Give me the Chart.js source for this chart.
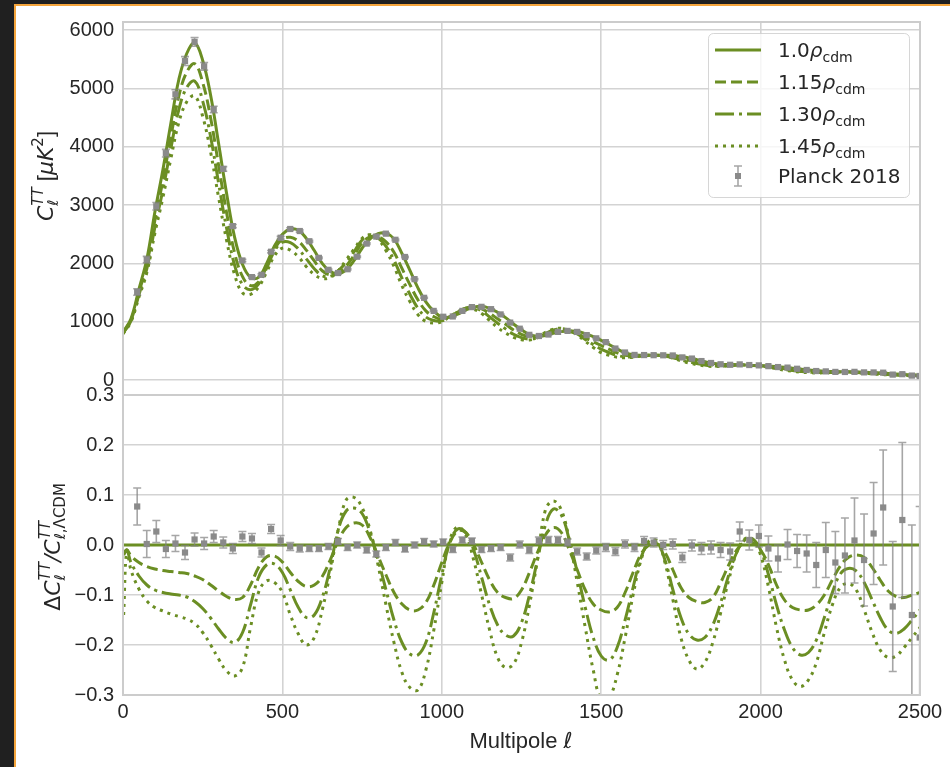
<!DOCTYPE html>
<html>
<head>
<meta charset="utf-8">
<script src="https://cdn.jsdelivr.net/npm/chart.js@4.4.1/dist/chart.umd.min.js"></script>
<style>
  html, body { margin: 0; padding: 0; width: 950px; height: 767px; overflow: hidden; background: #202020; }
  #card { position: absolute; left: 14px; top: 4px; width: 960px; height: 790px; background: #fff;
          border-top: 2px solid #f5a53c; border-left: 2px solid #f5a53c; }
  canvas { position: absolute; left: 0; top: 0; }
</style>
</head>
<body>
<div id="card"></div>
<canvas id="res" width="950" height="767"></canvas>
<canvas id="spec" width="950" height="767"></canvas>
<script>
// ---- data ----
const X_TICKS = [0, 500, 1000, 1500, 2000, 2500];
const TOP_TICKS = [0, 1000, 2000, 3000, 4000, 5000, 6000];
const RES_TICKS = [-0.3, -0.2, -0.1, 0.0, 0.1, 0.2, 0.3];
const SERIES_LABELS = ['1.0', '1.15', '1.30', '1.45'];
const DATA_LABEL = 'Planck 2018';

// model grid (multipole) for the spectrum panel
const ELL = [0,25,50,75,100,125,150,175,200,225,250,275,300,325,350,375,400,425,450,475,
  500,525,550,575,600,625,650,675,700,725,750,775,800,825,850,875,900,925,950,975,
  1000,1025,1050,1075,1100,1125,1150,1175,1200,1225,1250,1275,1300,1325,1350,1375,1400,1425,1450,1475,
  1500,1525,1550,1575,1600,1625,1650,1675,1700,1725,1750,1775,1800,1825,1850,1875,1900,1925,1950,1975,
  2000,2025,2050,2075,2100,2125,2150,2175,2200,2225,2250,2275,2300,2325,2350,2375,2400,2425,2450,2475,2500];

const CL_100 = [820,1050,1560,2080,2880,3600,4400,5150,5600,5780,5480,4880,4050,3200,2450,1980,1760,1760,1990,2300,
  2500,2590,2570,2430,2220,2000,1860,1820,1890,2050,2260,2420,2510,2520,2420,2170,1880,1580,1340,1180,
  1080,1080,1130,1200,1250,1265,1230,1160,1070,960,860,780,750,765,800,830,840,835,795,745,
  680,610,530,470,435,425,424,424,424,420,402,380,350,315,288,272,264,262,258,250,
  245,240,230,218,204,188,172,160,150,145,142,140,138,135,128,120,112,102,95,90,85];
const CL_115 = [808,1027,1505,1991,2742,3416,4167,4867,5281,5422,5102,4490,3677,2870,2183,1772,1619,1681,1942,2249,
  2415,2448,2382,2228,2042,1874,1804,1835,1956,2140,2350,2456,2455,2369,2190,1914,1636,1375,1186,1086,
  1042,1085,1162,1230,1250,1221,1144,1050,958,857,783,737,739,780,828,851,832,793,723,657,
  592,528,464,425,411,417,424,425,418,399,368,340,310,279,258,252,253,259,259,251,
  243,230,212,194,179,164,150,141,135,135,136,137,135,132,122,112,102,91,85,81,77];
const CL_130 = [800,1013,1463,1914,2621,3258,3969,4635,5018,5127,4784,4167,3370,2602,1972,1634,1549,1646,1910,2213,
  2363,2357,2249,2078,1909,1790,1776,1875,2019,2202,2402,2481,2435,2293,2057,1747,1470,1232,1079,1021,
  1015,1085,1166,1230,1238,1183,1082,974,877,785,727,702,728,796,858,880,848,789,696,607,
  529,470,421,400,398,414,426,426,411,382,344,312,284,257,242,241,248,258,261,253,
  243,226,202,181,162,147,135,130,128,131,134,133,131,125,114,103,93,84,79,77,74];
const CL_145 = [790,998,1423,1847,2520,3125,3793,4414,4771,4873,4521,3904,3127,2394,1808,1495,1470,1593,1847,2128,
  2263,2227,2113,1944,1809,1740,1758,1875,2060,2245,2430,2493,2410,2218,1948,1617,1344,1122,1005,979,
  999,1091,1171,1224,1213,1139,1021,899,808,732,692,686,728,819,870,888,848,772,664,559,
  469,424,392,383,392,412,427,427,409,374,328,293,263,241,232,235,246,258,261,253,
  240,220,192,168,149,135,126,122,124,128,130,129,126,117,106,95,87,79,76,73,71];

// model grid for the residual panel
const RES_ELL = [2,12,25,50,75,100,125,150,175,200,225,250,275,300,325,350,375,400,425,450,475,
  500,525,550,575,600,625,650,675,700,725,750,775,800,825,850,875,900,925,950,975,
  1000,1025,1050,1075,1100,1125,1150,1175,1200,1225,1250,1275,1300,1325,1350,1375,1400,1425,1450,1475,
  1500,1525,1550,1575,1600,1625,1650,1675,1700,1725,1750,1775,1800,1825,1850,1875,1900,1925,1950,1975,
  2000,2025,2050,2075,2100,2125,2150,2175,2200,2225,2250,2275,2300,2325,2350,2375,2400,2425,2450,2475,2500];

const RATIO_100 = RES_ELL.map(() => 0.0); // reference model relative to itself
const RATIO_115 = [-0.018,-0.010,-0.022,-0.035,-0.043,-0.048,-0.051,-0.053,-0.055,-0.057,-0.062,
  -0.069,-0.080,-0.092,-0.103,-0.109,-0.105,-0.080,-0.045,-0.024,-0.022,
  -0.034,-0.055,-0.073,-0.083,-0.080,-0.063,-0.030,0.008,0.035,0.044,
  0.040,0.015,-0.022,-0.060,-0.095,-0.118,-0.130,-0.130,-0.115,-0.080,
  -0.035,0.005,0.028,0.025,0.000,-0.035,-0.070,-0.095,-0.105,-0.107,
  -0.090,-0.055,-0.015,0.020,0.035,0.025,-0.010,-0.050,-0.090,-0.118,
  -0.130,-0.134,-0.125,-0.095,-0.055,-0.018,0.000,0.003,-0.015,-0.050,
  -0.085,-0.105,-0.113,-0.115,-0.105,-0.075,-0.040,-0.010,0.005,0.005,
  -0.010,-0.040,-0.080,-0.110,-0.125,-0.130,-0.130,-0.120,-0.100,-0.070,
  -0.042,-0.025,-0.020,-0.025,-0.045,-0.070,-0.092,-0.103,-0.105,-0.100,-0.095];
const RATIO_130 = [-0.020,-0.010,-0.035,-0.062,-0.080,-0.090,-0.095,-0.098,-0.100,-0.104,-0.113,
  -0.127,-0.146,-0.168,-0.187,-0.195,-0.175,-0.120,-0.065,-0.040,-0.038,
  -0.055,-0.090,-0.125,-0.145,-0.140,-0.105,-0.045,0.030,0.068,0.074,
  0.063,0.025,-0.030,-0.090,-0.150,-0.195,-0.218,-0.220,-0.195,-0.135,
  -0.060,0.005,0.032,0.025,-0.010,-0.065,-0.120,-0.160,-0.180,-0.182,
  -0.155,-0.100,-0.030,0.040,0.072,0.060,0.010,-0.055,-0.125,-0.185,
  -0.222,-0.230,-0.205,-0.150,-0.085,-0.025,0.005,0.005,-0.030,-0.090,
  -0.145,-0.178,-0.190,-0.185,-0.160,-0.115,-0.060,-0.015,0.010,0.012,
  -0.010,-0.060,-0.120,-0.170,-0.205,-0.220,-0.215,-0.190,-0.145,-0.095,
  -0.058,-0.047,-0.052,-0.075,-0.110,-0.145,-0.170,-0.177,-0.168,-0.150,-0.130];
const RATIO_145 = [-0.140,-0.012,-0.050,-0.088,-0.112,-0.125,-0.132,-0.138,-0.143,-0.148,-0.157,
  -0.175,-0.200,-0.228,-0.252,-0.262,-0.245,-0.165,-0.095,-0.072,-0.075,
  -0.095,-0.140,-0.178,-0.200,-0.185,-0.130,-0.055,0.030,0.090,0.095,
  0.075,0.030,-0.040,-0.120,-0.195,-0.255,-0.285,-0.290,-0.250,-0.170,
  -0.075,0.010,0.036,0.020,-0.030,-0.100,-0.170,-0.225,-0.245,-0.238,
  -0.195,-0.120,-0.030,0.070,0.088,0.070,0.010,-0.075,-0.165,-0.250,
  -0.310,-0.305,-0.260,-0.185,-0.100,-0.030,0.008,0.008,-0.035,-0.110,
  -0.185,-0.230,-0.248,-0.235,-0.195,-0.135,-0.070,-0.015,0.012,0.012,
  -0.020,-0.085,-0.165,-0.230,-0.270,-0.283,-0.270,-0.235,-0.175,-0.120,
  -0.085,-0.077,-0.090,-0.130,-0.175,-0.210,-0.225,-0.222,-0.205,-0.185,-0.165];

// binned Planck 2018 points
const PLANCK_ELL = [44.5,74.5,104.5,134.5,164.5,194.5,224.5,254.5,284.5,314.5,344.5,374.5,404.5,434.5,464.5,494.5,
  524.5,554.5,584.5,614.5,644.5,674.5,704.5,734.5,764.5,794.5,824.5,854.5,884.5,914.5,944.5,974.5,
  1004.5,1034.5,1064.5,1094.5,1124.5,1154.5,1184.5,1214.5,1244.5,1274.5,1304.5,1334.5,1364.5,1394.5,1424.5,1454.5,
  1484.5,1514.5,1544.5,1574.5,1604.5,1634.5,1664.5,1694.5,1724.5,1754.5,1784.5,1814.5,1844.5,1874.5,1904.5,1934.5,
  1964.5,1994.5,2024.5,2054.5,2084.5,2114.5,2144.5,2174.5,2204.5,2234.5,2264.5,2294.5,2324.5,2354.5,2384.5,2414.5,
  2444.5,2474.5,2499];
const PLANCK_DL = [1510,2065,2980,3890,4900,5470,5800,5380,4640,3620,2640,2050,1765,1805,2200,2440,
  2590,2555,2380,2095,1890,1835,1900,2115,2340,2460,2510,2405,2110,1730,1410,1185,
  1085,1090,1185,1250,1255,1215,1125,985,880,775,755,780,825,842,825,770,
  715,650,540,472,430,428,426,424,421,388,368,325,292,270,261,268,
  257,251,238,222,213,193,172,154,148,139,138,140,131,130,126,93,
  100,76,69];
const PLANCK_DL_ERR = [56,56,65,66,78,77,75,65,56,40,26,20,18,16,20,24,
  21,18,15,13,11,11,11,13,14,15,15,14,13,10,8,7,
  7,7,7,8,8,7,7,7,6,5,5,6,6,6,6,5,
  5,5,4,4,3,4,4,4,4,4,4,4,4,4,4,5,
  5,6,6,6,6,6,6,7,8,9,10,12,12,13,14,13,
  15,14,18];
const PLANCK_RES = [0.077,0.002,0.027,-0.008,0.003,-0.015,0.011,0.003,0.017,0.005,-0.007,0.017,0.013,-0.015,0.032,0.009,
  -0.003,-0.007,-0.007,-0.007,-0.003,0.007,-0.005,0.000,-0.010,-0.018,-0.005,0.005,-0.008,0.000,0.007,0.002,
  0.006,-0.009,0.010,0.008,-0.009,-0.007,-0.005,-0.025,0.001,-0.010,0.009,0.010,0.010,0.005,-0.013,-0.023,
  -0.011,-0.005,-0.013,0.002,-0.005,0.008,0.005,0.000,0.002,-0.025,-0.001,-0.007,-0.005,-0.010,-0.013,0.027,
  0.010,0.018,-0.007,-0.027,0.001,-0.012,-0.017,-0.040,-0.010,-0.035,-0.021,0.009,-0.030,0.023,0.075,-0.123,
  0.050,-0.140,-0.185];
const PLANCK_RES_ERR = [0.037,0.027,0.022,0.017,0.016,0.014,0.013,0.012,0.012,0.011,0.010,0.010,0.010,0.009,0.009,0.010,
  0.008,0.007,0.006,0.006,0.006,0.006,0.006,0.006,0.006,0.006,0.006,0.006,0.006,0.006,0.006,0.006,
  0.006,0.006,0.006,0.006,0.006,0.006,0.006,0.007,0.007,0.007,0.007,0.007,0.007,0.007,0.007,0.007,
  0.007,0.008,0.008,0.008,0.008,0.009,0.009,0.009,0.010,0.010,0.011,0.012,0.013,0.015,0.017,0.019,
  0.020,0.022,0.025,0.027,0.030,0.033,0.037,0.045,0.055,0.062,0.075,0.085,0.092,0.102,0.115,0.130,
  0.155,0.180,0.262];

// ---- styling ----
const GREEN = '#6b8e23';
const GREY = '#8a8a8a';
const ERR_GREY = 'rgba(128,128,128,0.7)';
const GRID = '#d3d3d3';
const TEXT = '#262626';
const DASHES = [[], [11, 5], [19, 5, 3, 5], [3, 5]];
const TICK_FONT = { family: 'Liberation Sans', size: 20 };
const MI = 'italic 22px "DejaVu Sans"', MR = '22px "DejaVu Sans"';
const SI = 'italic 15px "DejaVu Sans"', SR = '15px "DejaVu Sans"';
const LR = '22px "Liberation Sans"';

function lineDs(xs, ys, dash) {
  return {
    data: xs.map((x, i) => ({ x, y: ys[i] })),
    borderColor: GREEN, borderWidth: 3, borderDash: dash, borderCapStyle: 'butt',
    pointRadius: 0, tension: 0.4, fill: false, clip: 0
  };
}
function pointsDs(xs, ys, es) {
  return {
    data: xs.map((x, i) => ({ x, y: ys[i], e: es[i] })),
    showLine: false, pointStyle: 'rect', pointRadius: 4.4,
    pointBackgroundColor: GREY, pointBorderWidth: 0, clip: 0
  };
}

// error bars under the markers of dataset 0
const errorBars = {
  id: 'errorBars',
  beforeDatasetDraw(chart, args) {
    if (args.index !== 0) return;
    const { ctx, chartArea: a, scales: { x, y } } = chart;
    ctx.save();
    ctx.beginPath(); ctx.rect(a.left, a.top, a.width, a.height); ctx.clip();
    ctx.strokeStyle = ERR_GREY; ctx.lineWidth = 1.6;
    chart.data.datasets[0].data.forEach(p => {
      const px = x.getPixelForValue(p.x);
      const lo = y.getPixelForValue(p.y - p.e), hi = y.getPixelForValue(p.y + p.e);
      ctx.beginPath();
      ctx.moveTo(px, lo); ctx.lineTo(px, hi);
      ctx.moveTo(px - 4, lo); ctx.lineTo(px + 4, lo);
      ctx.moveTo(px - 4, hi); ctx.lineTo(px + 4, hi);
      ctx.stroke();
    });
    ctx.restore();
  }
};

const frame = {
  id: 'frame',
  afterDatasetsDraw(chart) {
    const { ctx, chartArea: a } = chart;
    ctx.save();
    ctx.strokeStyle = '#cccccc'; ctx.lineWidth = 2;
    ctx.strokeRect(a.left, a.top, a.right - a.left, a.bottom - a.top);
    ctx.restore();
  }
};

// small rich-text helper for the math labels
function richWidth(ctx, parts) {
  let w = 0;
  for (const p of parts) {
    if (p.stack) w += Math.max(richWidth(ctx, p.stack[0]), richWidth(ctx, p.stack[1]));
    else { ctx.font = p.f; w += ctx.measureText(p.t).width; }
  }
  return w;
}
function drawRich(ctx, parts, x, y) {
  const x0 = x;
  for (const p of parts) {
    if (p.stack) {
      const w1 = drawRich(ctx, p.stack[0], x, y);
      const w2 = drawRich(ctx, p.stack[1], x, y);
      x += Math.max(w1, w2);
    } else {
      ctx.font = p.f;
      ctx.fillText(p.t, x, y + (p.dy || 0));
      x += ctx.measureText(p.t).width;
    }
  }
  return x - x0;
}

const TOP_YLABEL = [
  { t: 'C', f: MI },
  { stack: [[{ t: 'TT', f: SI, dy: -10 }], [{ t: 'ℓ', f: SI, dy: 5 }]] },
  { t: ' [', f: LR }, { t: 'μK', f: MI }, { t: '2', f: SR, dy: -10 }, { t: ']', f: LR }
];
const RES_YLABEL = [
  { t: 'Δ', f: MR }, { t: 'C', f: MI },
  { stack: [[{ t: 'TT', f: SI, dy: -10 }], [{ t: 'ℓ', f: SI, dy: 5 }]] },
  { t: '/', f: MI }, { t: 'C', f: MI },
  { stack: [[{ t: 'TT', f: SI, dy: -10 }],
            [{ t: 'ℓ', f: SI, dy: 5 }, { t: ',', f: SR, dy: 5 }, { t: 'ΛCDM', f: SR, dy: 5 }]] }
];
const XLABEL = [{ t: 'Multipole ', f: LR }, { t: 'ℓ', f: MI }];

function drawVertical(ctx, parts, baseX, centerY) {
  const w = richWidth(ctx, parts);
  ctx.save();
  ctx.translate(baseX, centerY);
  ctx.rotate(-Math.PI / 2);
  drawRich(ctx, parts, -w / 2, 0);
  ctx.restore();
}

const titles = {
  id: 'titles',
  afterDraw(chart) {
    const ctx = chart.ctx;
    ctx.save();
    ctx.fillStyle = TEXT; ctx.textBaseline = 'alphabetic'; ctx.textAlign = 'left';
    drawVertical(ctx, TOP_YLABEL, 53, 176);
    drawVertical(ctx, RES_YLABEL, 60, 547);
    const w = richWidth(ctx, XLABEL);
    drawRich(ctx, XLABEL, 521 - w / 2, 748);
    ctx.restore();
  }
};

const legendBox = {
  id: 'legendBox',
  afterDraw(chart) {
    const ctx = chart.ctx;
    ctx.save();
    ctx.beginPath();
    ctx.roundRect(708.5, 33.5, 201, 164, 5);
    ctx.fillStyle = 'rgba(255,255,255,0.8)'; ctx.fill();
    ctx.strokeStyle = 'rgba(204,204,204,0.8)'; ctx.lineWidth = 1; ctx.stroke();
    const rows = [50, 82, 114, 146];
    ctx.textBaseline = 'alphabetic'; ctx.textAlign = 'left'; ctx.fillStyle = TEXT;
    SERIES_LABELS.forEach((lab, i) => {
      const y = rows[i];
      ctx.strokeStyle = GREEN; ctx.lineWidth = 3; ctx.lineCap = 'butt';
      ctx.setLineDash(DASHES[i]);
      ctx.beginPath(); ctx.moveTo(715, y); ctx.lineTo(761, y); ctx.stroke();
      ctx.setLineDash([]);
      drawRich(ctx, [{ t: lab, f: '20px "DejaVu Sans"' }, { t: 'ρ', f: 'italic 20px "DejaVu Sans"' },
                     { t: 'cdm', f: '14px "DejaVu Sans"', dy: 4.5 }], 778, y + 7.3);
    });
    const yp = 176;
    ctx.strokeStyle = ERR_GREY; ctx.lineWidth = 1.6;
    ctx.beginPath();
    ctx.moveTo(738, yp - 10); ctx.lineTo(738, yp + 10);
    ctx.moveTo(734, yp - 10); ctx.lineTo(742, yp - 10);
    ctx.moveTo(734, yp + 10); ctx.lineTo(742, yp + 10);
    ctx.stroke();
    ctx.fillStyle = GREY; ctx.fillRect(735, yp - 3, 6, 6);
    ctx.fillStyle = TEXT; ctx.font = '20px "DejaVu Sans"';
    ctx.fillText(DATA_LABEL, 778, yp + 7.3);
    ctx.restore();
  }
};

function scalesFor(yMin, yMax, yTicks, yFmt, showX) {
  const fixTicks = list => s => { s.ticks = list.map(v => ({ value: v })); };
  return {
    x: {
      type: 'linear', min: 0, max: 2500,
      afterBuildTicks: fixTicks(X_TICKS),
      afterFit: s => { s.height = showX ? 60 : 0; },
      ticks: { display: showX, color: TEXT, font: TICK_FONT, padding: 5, maxRotation: 0,
               callback: v => String(v) },
      grid: { color: GRID, lineWidth: 1.6, drawTicks: false },
      border: { display: false }
    },
    y: {
      type: 'linear', min: yMin, max: yMax,
      afterBuildTicks: fixTicks(yTicks),
      afterFit: s => { s.width = 100; },
      ticks: { color: TEXT, font: TICK_FONT, padding: 9, callback: yFmt },
      grid: { color: GRID, lineWidth: 1.6, drawTicks: false },
      border: { display: false }
    }
  };
}

const common = {
  responsive: false, animation: false, devicePixelRatio: 1,
  plugins: { legend: { display: false }, tooltip: { enabled: false } },
  elements: { point: { hoverRadius: 0 } }
};

new Chart(document.getElementById('res'), {
  type: 'line',
  data: {
    datasets: [
      pointsDs(PLANCK_ELL, PLANCK_RES, PLANCK_RES_ERR),
      lineDs(RES_ELL, RATIO_100, DASHES[0]),
      lineDs(RES_ELL, RATIO_115, DASHES[1]),
      lineDs(RES_ELL, RATIO_130, DASHES[2]),
      lineDs(RES_ELL, RATIO_145, DASHES[3])
    ]
  },
  options: {
    ...common,
    layout: { padding: { left: 23, right: 30, top: 395, bottom: 12 } },
    scales: scalesFor(-0.3, 0.3, RES_TICKS,
      v => (v < -1e-9 ? '\u2212' : '') + Math.abs(v).toFixed(1), true)
  },
  plugins: [errorBars, frame, titles]
});

new Chart(document.getElementById('spec'), {
  type: 'line',
  data: {
    datasets: [
      pointsDs(PLANCK_ELL, PLANCK_DL, PLANCK_DL_ERR),
      lineDs(ELL, CL_100, DASHES[0]),
      lineDs(ELL, CL_115, DASHES[1]),
      lineDs(ELL, CL_130, DASHES[2]),
      lineDs(ELL, CL_145, DASHES[3])
    ]
  },
  options: {
    ...common,
    layout: { padding: { left: 23, right: 30, top: 22, bottom: 372 } },
    scales: scalesFor(-257, 6140, TOP_TICKS, v => String(v), false)
  },
  plugins: [errorBars, frame, legendBox]
});
</script>
</body>
</html>
